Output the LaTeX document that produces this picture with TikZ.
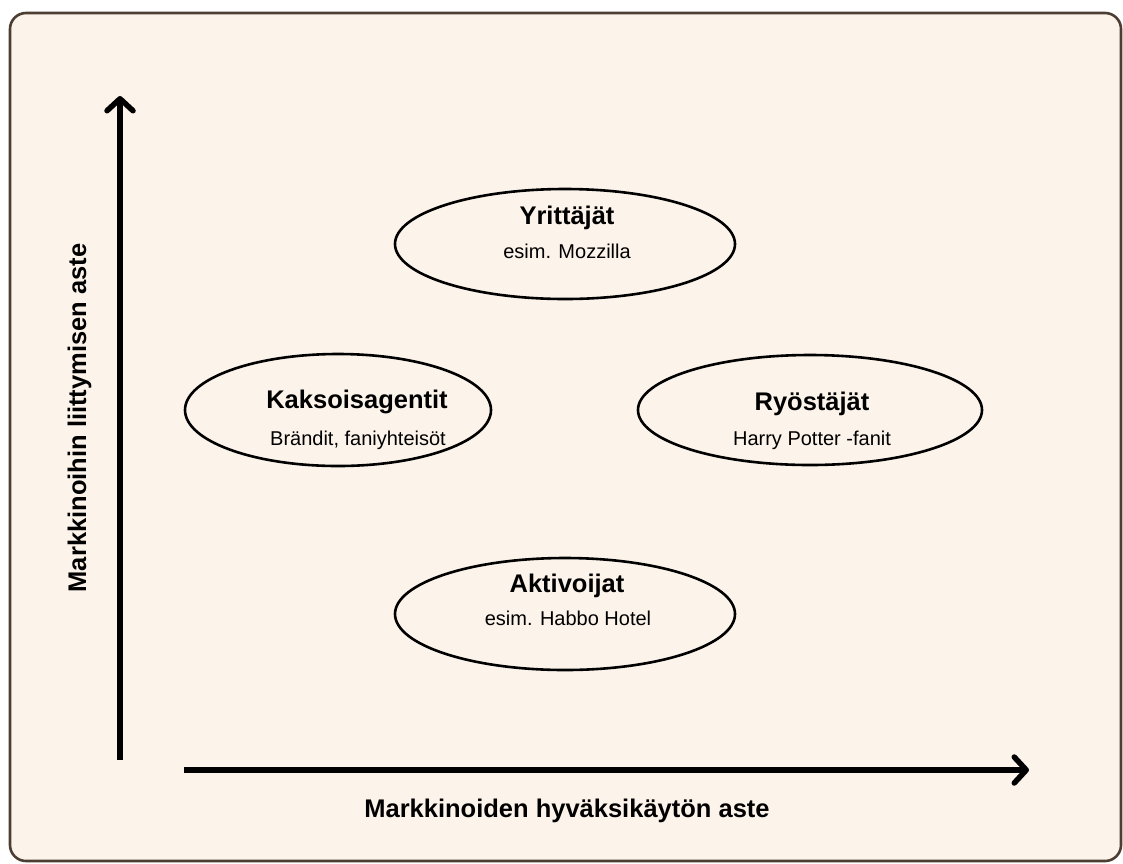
\documentclass[tikz,border=0pt]{standalone}
\usepackage{fontspec}
\setmainfont{Liberation Sans}
\usetikzlibrary{arrows.meta,shapes.geometric}
\definecolor{bgfill}{RGB}{252,243,234}
\definecolor{bgline}{RGB}{77,62,52}
\tikzset{
  oval/.style={draw=black, line width=2.6pt, ellipse, inner sep=0pt},
  ttl/.style={anchor=base, inner sep=0pt, font=\fontsize{25.5}{30}\selectfont\bfseries},
  sub/.style={anchor=base, inner sep=0pt, font=\fontsize{20}{24}\selectfont},
  axis/.style={line width=5.5pt, -{Straight Barb[length=12pt,width=26pt,round]}},
  axlabel/.style={inner sep=0pt, font=\fontsize{25.5}{30}\selectfont\bfseries}
}
\begin{document}
\begin{tikzpicture}[x=1pt,y=-1pt]
\useasboundingbox (0,0) rectangle (1123,863);
\draw[bgline, fill=bgfill, line width=2.6pt, rounded corners=16pt] (10,13) rectangle (1121,861);
% ellipses
\node[oval, minimum width=340pt, minimum height=110pt] (e1) at (565,244) {};
\node[oval, minimum width=306pt, minimum height=112pt] (e2) at (338,410) {};
\node[oval, minimum width=344pt, minimum height=110pt] (e3) at (810,410) {};
\node[oval, minimum width=340pt, minimum height=112pt] (e4) at (565,614) {};
% texts
\node[ttl] (t1) at (567,224) {Yrittäjät};
\node[sub] (s1) at (567,258) {esim. Mozzilla};
\node[ttl] (t2) at (357,408) {Kaksoisagentit};
\node[sub] (s2) at (358,445) {Brändit, faniyhteisöt};
\node[ttl] (t3) at (812,410) {Ryöstäjät};
\node[sub] (s3) at (812,445) {Harry Potter -fanit};
\node[ttl] (t4) at (567,592) {Aktivoijat};
\node[sub] (s4) at (568,625) {esim. Habbo Hotel};
% axes
\coordinate (ya) at (120,760);
\coordinate (yb) at (120,96);
\coordinate (xa) at (184,770);
\coordinate (xb) at (1029,770);
\draw[axis] (ya) -- (yb);
\draw[axis] (xa) -- (xb);
\node[axlabel, rotate=90, anchor=base] (ylab) at (86,418) {Markkinoihin liittymisen aste};
\node[axlabel, anchor=base] (xlab) at (567,817) {Markkinoiden hyväksikäytön aste};
\end{tikzpicture}
\end{document}
